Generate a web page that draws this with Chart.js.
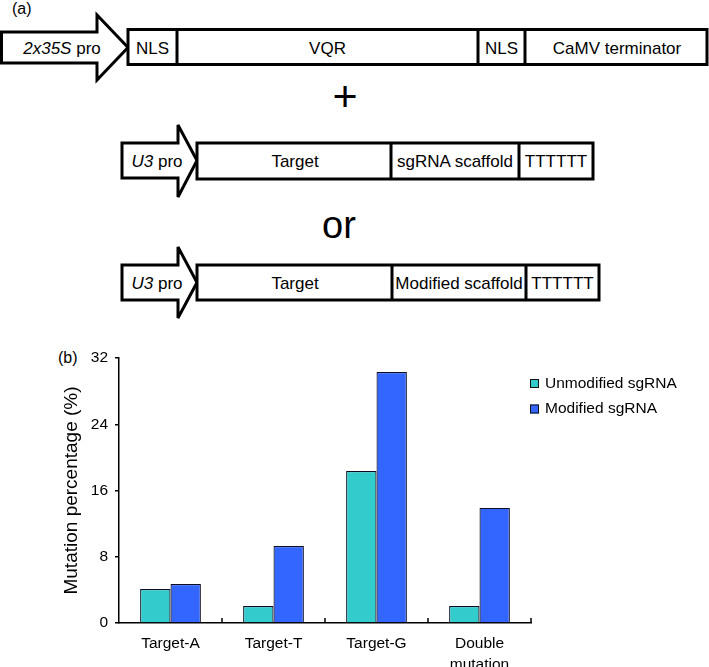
<!DOCTYPE html>
<html>
<head>
<meta charset="utf-8">
<script src="https://cdn.jsdelivr.net/npm/chart.js@4.4.0/dist/chart.umd.min.js"></script>
<style>
  body { margin: 0; background: #fff; width: 709px; height: 667px; overflow: hidden; position: relative; }
  #diagram { position: absolute; left: 0; top: 0; }
  #wrap { position: absolute; left: 0; top: 320px; width: 709px; height: 347px; }
  svg text { font-family: "Liberation Sans", Arial, sans-serif; fill: #000; }
</style>
</head>
<body>

<!-- (a) construct diagram -->
<svg id="diagram" width="709" height="667" viewBox="0 0 709 667">
  <g fill="#fff" stroke="#000" stroke-width="3" stroke-linejoin="miter">
    <!-- 2x35S pro row -->
    <path d="M1.5,32 L97,32 L97,15 L128,47.5 L97,80 L97,63 L1.5,63 Z"/>
    <rect x="128" y="29.5" width="579" height="35"/>
    <line x1="177" y1="29.5" x2="177" y2="64.5"/>
    <line x1="478" y1="29.5" x2="478" y2="64.5"/>
    <line x1="525" y1="29.5" x2="525" y2="64.5"/>
    <!-- U3 row 1 -->
    <path d="M122,143 L178,143 L178,125 L197,160.5 L178,197 L178,178 L122,178 Z"/>
    <rect x="197" y="143" width="396" height="36"/>
    <line x1="391" y1="143" x2="391" y2="179"/>
    <line x1="519" y1="143" x2="519" y2="179"/>
    <!-- U3 row 2 -->
    <path d="M122,265 L178,265 L178,247 L197,282.5 L178,318 L178,300 L122,300 Z"/>
    <rect x="197" y="265" width="402" height="35"/>
    <line x1="392" y1="265" x2="392" y2="300"/>
    <line x1="526" y1="265" x2="526" y2="300"/>
  </g>
  <g font-size="17" text-anchor="middle">
    <text x="62" y="53.5"><tspan font-style="italic">2x35S</tspan> pro</text>
    <text x="152.5" y="53.5">NLS</text>
    <text x="327.5" y="53.5">VQR</text>
    <text x="501.5" y="53.5">NLS</text>
    <text x="617" y="53.5">CaMV terminator</text>

    <text x="157" y="167">
      <tspan font-style="italic">U3</tspan> pro</text>
    <text x="295" y="167">Target</text>
    <text x="455" y="167">sgRNA scaffold</text>
    <text x="556" y="167">TTTTTT</text>

    <text x="157" y="288.5"><tspan font-style="italic">U3</tspan> pro</text>
    <text x="295" y="288.5">Target</text>
    <text x="459" y="288.5">Modified scaffold</text>
    <text x="562.5" y="288.5">TTTTTT</text>
  </g>
  <text x="12" y="14" font-size="16">(a)</text>
  <text x="345" y="111" font-size="43" text-anchor="middle">+</text>
  <text x="339" y="238" font-size="38" text-anchor="middle">or</text>
  <text x="58" y="363" font-size="16">(b)</text>
</svg>

<div id="wrap"><canvas id="myChart" width="709" height="347"></canvas></div>

<script>
/*========== DU LIEU ==========*/
const categories = ['Target-A', 'Target-T', 'Target-G', ['Double', 'mutation']];
const seriesNames = ['Unmodified sgRNA', 'Modified sgRNA'];
const unmodified = [4.1, 2.05, 18.35, 2.05];
const modified = [4.7, 9.3, 30.3, 13.9];
const yTicks = [0, 8, 16, 24, 32];

const FONT = '"Liberation Sans", Arial, sans-serif';

/*========== LEGEND BEN PHAI ==========*/
const sideLegend = {
  id: 'sideLegend',
  afterDraw(chart, args, opts) {
    const c = chart.ctx;
    c.save();
    c.font = `${opts.size}px ${FONT}`;
    c.textBaseline = 'middle';
    chart.data.datasets.forEach((ds, i) => {
      const y = opts.y + i * opts.gap;
      c.fillStyle = ds.backgroundColor;
      c.fillRect(opts.x, y - opts.box / 2, opts.box, opts.box);
      c.strokeStyle = '#111';
      c.lineWidth = 1;
      c.strokeRect(opts.x + 0.5, y - opts.box / 2 + 0.5, opts.box - 1, opts.box - 1);
      c.fillStyle = '#000';
      c.fillText(ds.label, opts.x + opts.box + 6, y);
    });
    c.restore();
  }
};

// vach nho huong vao trong o ranh gioi giua cac nhom
const innerTicks = {
  id: 'innerTicks',
  afterDraw(chart, args, opts) {
    const x = chart.scales.x;
    const c = chart.ctx;
    const half = (x.getPixelForValue(1) - x.getPixelForValue(0)) / 2;
    c.save();
    c.strokeStyle = '#000';
    c.lineWidth = 1.5;
    c.beginPath();
    for (let i = 0; i < categories.length; i++) {
      const px = x.getPixelForValue(i) + half;
      c.moveTo(px, x.top);
      c.lineTo(px, x.top - opts.len);
    }
    c.stroke();
    c.restore();
  }
};

/*========== CHART ==========*/
const ctx = document.getElementById('myChart').getContext('2d');

const chart = new Chart(ctx, {
  type: 'bar',
  data: {
    labels: categories,
    datasets: [
      {
        label: seriesNames[0],
        data: unmodified,
        backgroundColor: '#33CCCC',
        borderColor: '#0d0d26',
        borderWidth: 1.2
      },
      {
        label: seriesNames[1],
        data: modified,
        backgroundColor: '#3366FF',
        borderColor: '#0d0d26',
        borderWidth: 1.2
      }
    ]
  },
  options: {
    animation: false,
    responsive: false,
    devicePixelRatio: 1,
    layout: { padding: { top: 38, right: 178, left: 0, bottom: 0 } },
    datasets: { bar: { categoryPercentage: 0.59, barPercentage: 1.0 } },
    plugins: {
      legend: { display: false },
      tooltip: { enabled: false },
      sideLegend: { x: 530, y: 63.5, gap: 25.5, box: 9, size: 15.5 },
      innerTicks: { len: 5 }
    },
    scales: {
      x: {
        grid: { display: false },
        border: { display: true, color: '#000', width: 1.5 },
        ticks: {
          color: '#000',
          padding: 2,
          maxRotation: 0,
          autoSkip: false,
          font: { family: FONT, size: 15.5, lineHeight: 1.35 }
        },
        afterFit(s) { s.height = 44; }
      },
      y: {
        min: 0,
        max: 32,
        grid: { drawOnChartArea: false, drawTicks: true, tickLength: 4, color: '#000', lineWidth: 1.5 },
        border: { display: true, color: '#000', width: 1.5 },
        ticks: {
          color: '#000',
          padding: 7,
          font: { family: FONT, size: 15.5 }
        },
        afterBuildTicks(s) { s.ticks = yTicks.map(v => ({ value: v })); },
        title: {
          display: true,
          text: 'Mutation percentage (%)',
          color: '#000',
          font: { family: FONT, size: 19 },
          padding: { top: 60, bottom: 0 }
        },
        afterFit(s) { s.width = 119; }
      }
    }
  },
  plugins: [sideLegend, innerTicks]
});
</script>
</body>
</html>
